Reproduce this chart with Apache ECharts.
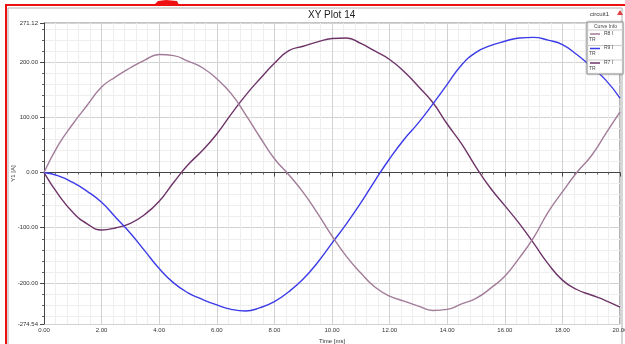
<!doctype html>
<html lang="en">
  <head>
    <meta charset="UTF-8" />
    <title>XY Plot 14</title>
    <script src="https://cdn.jsdelivr.net/npm/echarts@latest/dist/echarts.min.js"></script>
    <style>
      body { margin: 0; background: #fff; }
    </style>
  </head>
  <body>
    <div id="chart" style="width: 625px; height: 344px"></div>
    <script>
      // sample times (ms), read every 0.5 ms off the plot
      const timeMs = [
        0, 0.5, 1, 1.5, 2, 2.5, 3, 3.5, 4, 4.5, 5, 5.5, 6, 6.5, 7, 7.5, 8, 8.5, 9, 9.5, 10,
        10.5, 11, 11.5, 12, 12.5, 13, 13.5, 14, 14.5, 15, 15.5, 16, 16.5, 17, 17.5, 18, 18.5, 19, 19.5, 20,
      ];
      const r8 = [
        0, 50, 88, 122, 155, 174, 190, 204, 214, 212, 202, 190, 170, 143, 105, 64, 25, -4, -36, -74, -115,
        -152, -182, -208, -224, -233, -242, -250, -248, -238, -228, -210, -188, -155, -118, -72, -35, 0, 30, 70, 110,
      ];
      const r9 = [
        0, -6, -18, -34, -54, -82, -110, -142, -174, -200, -218, -230, -240, -248, -251, -245, -234, -216, -193, -163, -128,
        -93, -55, -14, 25, 60, 90, 124, 160, 195, 218, 230, 238, 244, 245, 240, 232, 214, 192, 168, 135,
      ];
      const r7 = [
        0, -40, -72, -93, -104, -100, -92, -76, -52, -18, 14, 40, 70, 106, 140, 170, 198, 221, 229, 237, 243,
        244, 234, 220, 205, 183, 156, 127, 88, 52, 10, -28, -60, -92, -128, -165, -195, -212, -222, -232, -244,
      ];
      const curveNames = ['R8 I', 'R9 I', 'R7 I'];
      const curveColors = ['#a27c98', '#3b3be8', '#6e3468'];

      const pairs = (vals) => vals.map((v, i) => [timeMs[i], v]);
      const font = 'Liberation Sans, Arial, sans-serif';

      const legendItems = [];
      curveNames.forEach((name, i) => {
        const y = 34 + i * 14.5;
        legendItems.push(
          { type: 'line', z: 11, shape: { x1: 590, y1: y, x2: 600, y2: y }, style: { stroke: curveColors[i], lineWidth: 1.5 } },
          { type: 'text', z: 11, x: 604, y: y - 3, style: { text: name, fontSize: 5, fill: '#444', fontFamily: font } },
          { type: 'text', z: 11, x: 589, y: y + 3, style: { text: 'TR', fontSize: 5, fill: '#444', fontFamily: font } }
        );
        if (i < 2) {
          legendItems.push({ type: 'line', z: 11, shape: { x1: 587, y1: y + 11.5, x2: 623, y2: y + 11.5 }, style: { stroke: '#ccc', lineWidth: 1 } });
        }
      });

      const chart = echarts.init(document.getElementById('chart'));
      chart.setOption({
        animation: false,
        backgroundColor: '#fff',
        grid: { left: 44, right: 5, top: 23, bottom: 20, containLabel: false, outerBoundsMode: 'none' },
        xAxis: {
          type: 'value',
          min: 0,
          max: 20,
          interval: 2,
          name: 'Time [ms]',
          nameLocation: 'middle',
          nameGap: 12,
          nameTextStyle: { fontSize: 6, color: '#333', fontFamily: font },
          axisLine: { lineStyle: { color: '#444', width: 1 } },
          axisTick: { show: true, length: 4, lineStyle: { color: '#444' } },
          minorTick: { show: true, splitNumber: 5, length: 2, lineStyle: { color: '#666' } },
          axisLabel: { fontSize: 6, color: '#333', margin: 3, fontFamily: font, formatter: (v) => v.toFixed(2) },
          splitLine: { show: true, lineStyle: { color: '#d2d2d2' } },
          minorSplitLine: { show: true, lineStyle: { color: '#eeeeee' } },
        },
        yAxis: {
          type: 'value',
          min: -274.54,
          max: 271.12,
          splitNumber: 5,
          name: 'Y1 [A]',
          nameLocation: 'middle',
          nameGap: 28,
          nameMoveOverlap: false,
          nameTextStyle: { fontSize: 6, color: '#333', fontFamily: font },
          axisLine: { show: true, lineStyle: { color: '#444', width: 1 } },
          axisTick: { show: true, length: 4, lineStyle: { color: '#444' } },
          minorTick: { show: true, splitNumber: 5, length: 2, lineStyle: { color: '#666' } },
          axisLabel: { fontSize: 6, color: '#333', margin: 6, fontFamily: font, formatter: (v) => v.toFixed(2) },
          splitLine: { show: true, lineStyle: { color: '#d2d2d2' } },
          minorSplitLine: { show: true, lineStyle: { color: '#eeeeee' } },
        },
        series: [r8, r9, r7].map((vals, i) => ({
          name: curveNames[i],
          type: 'line',
          data: pairs(vals),
          smooth: 0.5,
          showSymbol: false,
          lineStyle: { color: curveColors[i], width: 1.4 },
          z: 3 - i,
        })),
        graphic: [
          // outer frame and panel
          { type: 'rect', shape: { x: 8, y: 8, width: 614, height: 340 }, style: { fill: 'none', stroke: '#b0b0b0', lineWidth: 1 }, z: -1 },
          { type: 'line', shape: { x1: 44, y1: 23, x2: 620, y2: 23 }, style: { stroke: '#888', lineWidth: 1 } },
          { type: 'line', shape: { x1: 620, y1: 23, x2: 620, y2: 324 }, style: { stroke: '#666', lineWidth: 1 } },
          { type: 'rect', shape: { x: 5, y: 4, width: 620, height: 2 }, style: { fill: '#ee1111' } },
          { type: 'rect', shape: { x: 5, y: 4, width: 2, height: 340 }, style: { fill: '#ee1111' } },
          { type: 'polygon', shape: { points: [[154, 5], [158, 1], [166, 0], [177, 1], [179, 5]] }, style: { fill: '#ee1111' } },
          { type: 'polygon', shape: { points: [[617, 15], [620, 10], [623, 15]] }, style: { fill: '#e04040' } },
          // title and circuit name
          { type: 'text', x: 308, y: 10, style: { text: 'XY Plot 14', fontSize: 10, fill: '#222', fontFamily: font } },
          { type: 'text', x: 590, y: 11, style: { text: 'circuit1', fontSize: 6, fill: '#333', fontFamily: font } },
          // curve info box
          { type: 'rect', shape: { x: 587, y: 22, width: 36, height: 52 }, style: { fill: '#fff', stroke: '#999', lineWidth: 1, shadowBlur: 2, shadowColor: 'rgba(0,0,0,0.25)' }, z: 10 },
          { type: 'text', x: 594, y: 24, style: { text: 'Curve Info', fontSize: 5, fill: '#444', fontFamily: font }, z: 11 },
          { type: 'line', shape: { x1: 587, y1: 30, x2: 623, y2: 30 }, style: { stroke: '#ccc', lineWidth: 1 }, z: 11 },
        ].concat(legendItems),
      });
    </script>
  </body>
</html>
